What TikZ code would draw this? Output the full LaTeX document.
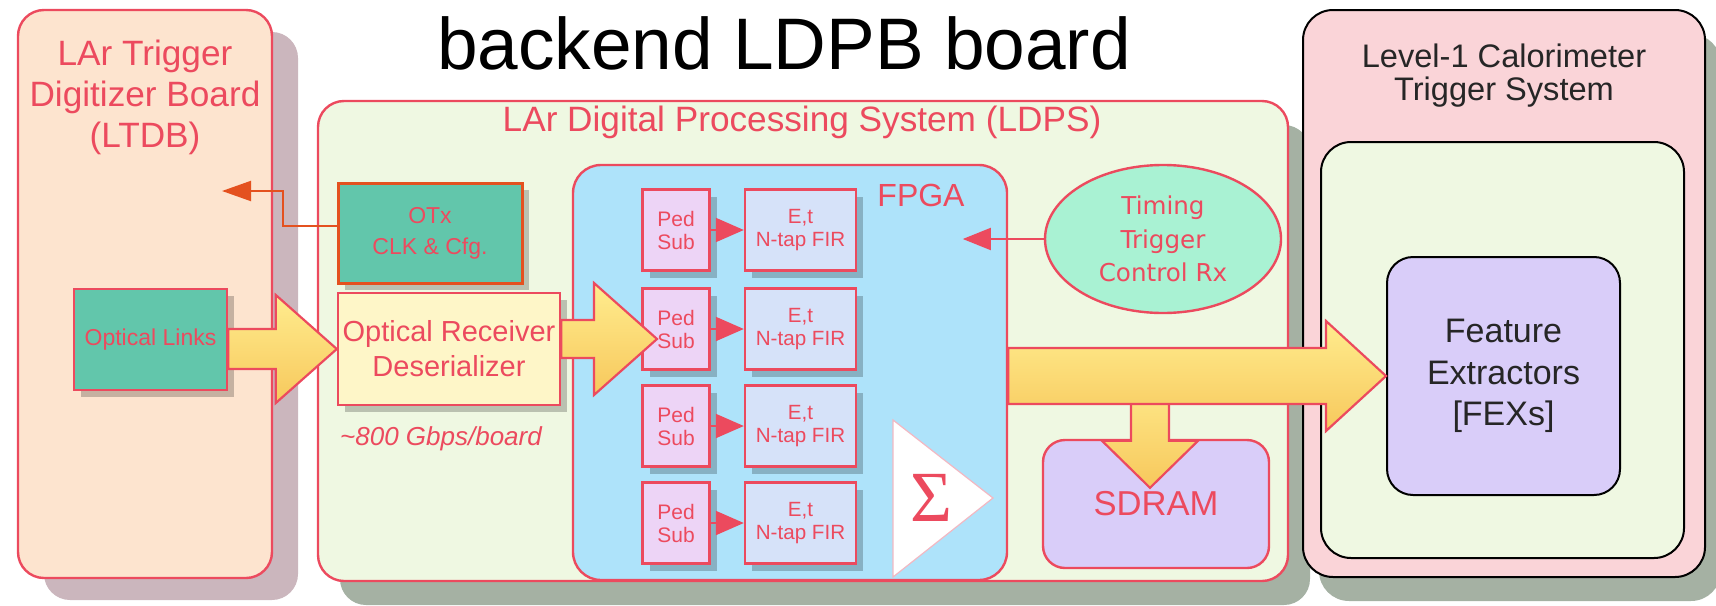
\documentclass[tikz,border=0pt]{standalone}
\usepackage{fontspec}
\setmainfont{Liberation Sans}
\newfontfamily\timingfont{DejaVu Sans}
\newfontfamily\sigmafont{Liberation Serif}
\usetikzlibrary{shapes.geometric, arrows.meta, shadows, calc}

\definecolor{ldred}{HTML}{EC4A5E}
\definecolor{otxred}{HTML}{E4511F}
\definecolor{ltdbfill}{HTML}{FDE4CF}
\definecolor{ldpsfill}{HTML}{EFF8E2}
\definecolor{fpgafill}{HTML}{AEE3FA}
\definecolor{pedfill}{HTML}{EDD4F6}
\definecolor{firfill}{HTML}{D6E2F9}
\definecolor{tealfill}{HTML}{62C6AB}
\definecolor{rxfill}{HTML}{FEF6C8}
\definecolor{ttcfill}{HTML}{A9F2D3}
\definecolor{lilacfill}{HTML}{D9CDF9}
\definecolor{calofill}{HTML}{FAD4D8}
\definecolor{arrowtop}{HTML}{FFEC8E}
\definecolor{arrowbot}{HTML}{F7C85C}
\definecolor{sigmaline}{HTML}{F2B8C2}
\definecolor{mauveshadow}{HTML}{CBB6BD}
\definecolor{greyshadow}{HTML}{A5B1A3}

% fat block arrow: start, tip, shaft half width, head half width, head length
\newcommand\fatarrow[5]{%
  \coordinate (fa-h) at ($(#2)!#5!(#1)$);
  \path[fatbody] ($(#1)!#3!90:(#2)$) -- ($(fa-h)!#3!90:(#2)$) -- ($(fa-h)!#4!90:(#2)$) -- (#2)
    -- ($(fa-h)!#4!-90:(#2)$) -- ($(fa-h)!#3!-90:(#2)$) -- ($(#1)!#3!-90:(#2)$) -- cycle;}

\begin{document}
\begin{tikzpicture}[
    x=0.5pt, y=-0.5pt,
    box/.style={draw=ldred, line width=1.2pt, text=ldred, align=center, inner sep=0pt},
    panel/.style={box, rounded corners=13pt},
    soft/.style={drop shadow={shadow xshift=3.5pt, shadow yshift=-3.5pt, opacity=.22, fill=black}},
    pedbox/.style={box, soft, fill=pedfill, minimum width=33.5pt, minimum height=40.5pt,
      font=\fontsize{10.5}{11.5}\selectfont},
    firbox/.style={box, soft, fill=firfill, minimum width=55.5pt, minimum height=40.5pt,
      font=\fontsize{10.3}{11.5}\selectfont},
    redarrow/.style={draw=ldred, line width=1pt, -{Triangle[length=14pt, width=12pt]}},
    fatbody/.style={draw=ldred, line width=1.1pt, top color=arrowtop, bottom color=arrowbot}
  ]
  \useasboundingbox (0,0) rectangle (1716,605);

  % Title
  \node[anchor=base, font=\fontsize{36.5}{40}\selectfont] (title) at (784,69) {backend LDPB board};

  % Systems
  \node[panel, fill=ltdbfill, minimum width=127pt, minimum height=284pt,
    drop shadow={shadow xshift=13pt, shadow yshift=-11pt, fill=mauveshadow, opacity=1}] (ltdb) at (145,294) {};
  \node[text=ldred, align=center, font=\fontsize{17.6}{20.5}\selectfont] (ltdbname) at (145,97)
    {LAr Trigger\\Digitizer Board\\(LTDB)};
  \node[panel, fill=ldpsfill, minimum width=485pt, minimum height=240pt,
    drop shadow={shadow xshift=11pt, shadow yshift=-12pt, fill=greyshadow, opacity=1}] (ldps) at (803,341) {};
  \node[text=ldred, font=\fontsize{17.6}{20}\selectfont] (ldpsname) at (802,122)
    {LAr Digital Processing System (LDPS)};
  \node[draw=black, line width=1pt, rounded corners=15pt, fill=calofill, minimum width=201pt,
    minimum height=283.5pt,
    drop shadow={shadow xshift=8pt, shadow yshift=-12pt, fill=greyshadow, opacity=1}] (calo) at (1504,293.5) {};
  \node[align=center, text=black!85, font=\fontsize{16.3}{16.5}\selectfont] (caloname) at (1504,76)
    {Level-1 Calorimeter\\Trigger System};
  \node[draw=black, line width=1pt, rounded corners=15pt, fill=ldpsfill, minimum width=181.5pt,
    minimum height=208pt] (caloin) at (1502.5,350) {};
  \node[draw=black, line width=1pt, rounded corners=13pt, fill=lilacfill, align=center,
    text=black!85, font=\fontsize{17}{20.7}\selectfont, minimum width=116.5pt, minimum height=119pt]
    (fex) at (1503.5,376) {Feature\\Extractors\\{[FEXs]}};

  % LTDB side
  \node[box, soft, fill=tealfill, minimum width=76.5pt, minimum height=50.5pt,
    font=\fontsize{11.5}{14}\selectfont] (links) at (150.5,339.5) {Optical Links};

  % LDPS blocks
  \node[box, soft, draw=otxred, line width=1.5pt, fill=tealfill, minimum width=92pt, minimum height=50pt,
    font=\fontsize{11.5}{15.5}\selectfont] (otx) at (430,233) {OTx\\CLK \& Cfg.};
  \node[box, soft, fill=rxfill, minimum width=111pt, minimum height=56pt,
    font=\fontsize{14.5}{17.5}\selectfont] (rx) at (449,349) {Optical Receiver\\Deserializer};
  \node[text=ldred, anchor=base, font=\fontsize{13}{15}\selectfont\itshape] (rate) at (441,445)
    {\textasciitilde800 Gbps/board};
  \node[panel, rounded corners=14pt, fill=fpgafill, minimum width=217pt, minimum height=207.5pt]
    (fpga) at (790,372.5) {};
  \node[text=ldred, anchor=base, font=\fontsize{16}{18}\selectfont] (fpganame) at (921,206) {FPGA};

  % Filter chains
  \node[pedbox] (ped1) at (676,230) {Ped\\Sub};
  \node[pedbox] (ped2) at (676,329) {Ped\\Sub};
  \node[pedbox] (ped3) at (676,426) {Ped\\Sub};
  \node[pedbox] (ped4) at (676,523) {Ped\\Sub};
  \node[firbox] (fir1) at (800.5,230) {E,t\\N-tap FIR};
  \node[firbox] (fir2) at (800.5,329) {E,t\\N-tap FIR};
  \node[firbox] (fir3) at (800.5,426) {E,t\\N-tap FIR};
  \node[firbox] (fir4) at (800.5,523) {E,t\\N-tap FIR};
  \draw[redarrow] (ped1) -- (fir1);
  \draw[redarrow] (ped2) -- (fir2);
  \draw[redarrow] (ped3) -- (fir3);
  \draw[redarrow] (ped4) -- (fir4);

  % Sum
  \draw[draw=sigmaline, line width=0.6pt, fill=white] (893,420) -- (893,577) -- (993,498) -- cycle;
  \node[text=ldred, font=\sigmafont\fontsize{36}{40}\selectfont] (sigma) at (931,498) {Σ};

  % Timing and memory
  \node[ellipse, draw=ldred, line width=1.2pt, fill=ttcfill, text=ldred, align=center,
    minimum width=118pt, minimum height=74pt, inner sep=0pt,
    font=\timingfont\fontsize{12.3}{16.7}\selectfont] (ttc) at (1163,239) {Timing\\Trigger\\Control Rx};
  \coordinate (fpgain) at ($(ttc.west)+(-81,0)$);
  \draw[redarrow, -{Triangle[length=14pt, width=11pt]}] (ttc.west) -- (fpgain);
  \node[panel, rounded corners=11pt, fill=lilacfill, minimum width=113pt, minimum height=64pt,
    font=\fontsize{17.3}{20}\selectfont] (sdram) at (1156,504) {SDRAM};

  % Data flow
  \coordinate (a1) at (links.east |- rx.west);
  \fatarrow{a1}{rx.west}{10pt}{27pt}{30.5pt}
  \coordinate (fpgaport) at (657,339);
  \coordinate (a2) at (rx.east |- fpgaport);
  \fatarrow{a2}{fpgaport}{9.5pt}{28pt}{31.5pt}
  \coordinate (sdtip) at ($(sdram.north)+(-6,49)$);
  \coordinate (a4) at (sdtip |- fpga.east);
  \fatarrow{a4}{sdtip}{9.5pt}{24pt}{23.5pt}
  \coordinate (a3) at (fpga.east |- fex.west);
  \fatarrow{a3}{fex.west}{14pt}{27.5pt}{30pt}

  % Clock and config back to LTDB
  \coordinate (ltdbin) at (222,191);
  \draw[draw=otxred, line width=1pt, -{Triangle[length=14.5pt, width=10pt]}]
    ($(otx.west)+(0,-7)$) -- ++(-54,0) |- (ltdbin);
\end{tikzpicture}
\end{document}
